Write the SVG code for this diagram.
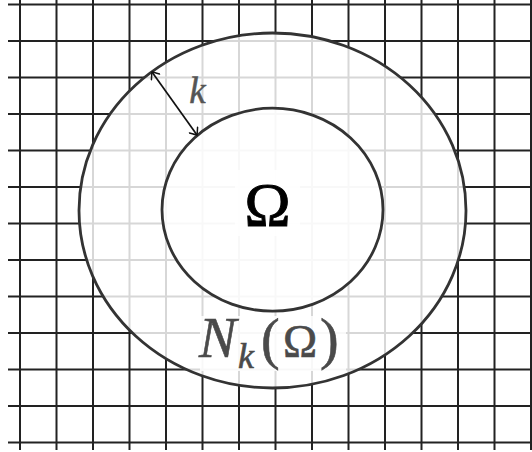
<svg xmlns="http://www.w3.org/2000/svg" width="532" height="452" viewBox="0 0 532 452">
<style>
.grid line{stroke:#222;stroke-width:2}
.region{fill:#fff;fill-opacity:0.82;stroke:#333;stroke-width:2.8}
.box{fill:#fff;fill-opacity:0.82;stroke:none}
.math{font-family:"Liberation Serif","DejaVu Serif",serif}
</style>
<defs>
<marker id="ah" viewBox="-8 -6 10 12" refX="0" refY="0" markerWidth="10" markerHeight="12" markerUnits="userSpaceOnUse" orient="auto-start-reverse">
<path d="M-6,-5 Q-1,-1 0,0 Q-1,1 -6,5" fill="none" stroke="#111" stroke-width="1.5" stroke-linecap="round"/>
</marker>
</defs>
<g id="grid" class="grid">
<line x1="20" y1="0" x2="20" y2="450"/>
<line x1="56.5" y1="0" x2="56.5" y2="450"/>
<line x1="93" y1="0" x2="93" y2="450"/>
<line x1="129.5" y1="0" x2="129.5" y2="450"/>
<line x1="166" y1="0" x2="166" y2="450"/>
<line x1="202.5" y1="0" x2="202.5" y2="450"/>
<line x1="239" y1="0" x2="239" y2="450"/>
<line x1="275.5" y1="0" x2="275.5" y2="450"/>
<line x1="312" y1="0" x2="312" y2="450"/>
<line x1="348.5" y1="0" x2="348.5" y2="450"/>
<line x1="385" y1="0" x2="385" y2="450"/>
<line x1="421.5" y1="0" x2="421.5" y2="450"/>
<line x1="458" y1="0" x2="458" y2="450"/>
<line x1="494.5" y1="0" x2="494.5" y2="450"/>
<line x1="531" y1="0" x2="531" y2="450"/>
<line x1="8" y1="4.5" x2="532" y2="4.5"/>
<line x1="8" y1="41" x2="532" y2="41"/>
<line x1="8" y1="77.5" x2="532" y2="77.5"/>
<line x1="8" y1="114" x2="532" y2="114"/>
<line x1="8" y1="150.5" x2="532" y2="150.5"/>
<line x1="8" y1="187" x2="532" y2="187"/>
<line x1="8" y1="223.5" x2="532" y2="223.5"/>
<line x1="8" y1="260" x2="532" y2="260"/>
<line x1="8" y1="296.5" x2="532" y2="296.5"/>
<line x1="8" y1="333" x2="532" y2="333"/>
<line x1="8" y1="369.5" x2="532" y2="369.5"/>
<line x1="8" y1="406" x2="532" y2="406"/>
<line x1="8" y1="442.5" x2="532" y2="442.5"/>
</g>
<g id="neighborhood">
<ellipse class="region" cx="272.5" cy="210.5" rx="193.5" ry="177.5"/>
<rect class="box" x="200" y="316" width="146" height="55"/>
<text class="math" fill="#4a4a4a" stroke="#4a4a4a" stroke-width="0.6" font-size="56" font-style="italic" x="199" y="357">N<tspan font-size="36" x="238" y="368">k</tspan><tspan font-style="normal" x="261" y="358">(</tspan><tspan font-style="normal" font-size="46" x="283" y="357">Ω</tspan><tspan font-style="normal" x="320" y="358">)</tspan></text>
</g>
<g id="omega">
<ellipse class="region" cx="272.5" cy="209.7" rx="110.5" ry="101.5"/>
<rect class="box" x="235" y="170" width="65" height="66"/>
<text class="math" fill="#000" stroke="#000" stroke-width="1" font-size="62" x="267.5" y="225" text-anchor="middle">Ω</text>
</g>
<g id="k-label">
<text class="math" fill="#555" stroke="#555" stroke-width="0.5" font-size="37" font-style="italic" x="197.5" y="103" text-anchor="middle">k</text>
</g>
<g id="connectors">
<line x1="152" y1="72" x2="197" y2="135" stroke="#111" stroke-width="1.7" marker-start="url(#ah)" marker-end="url(#ah)"/>
</g>
</svg>
